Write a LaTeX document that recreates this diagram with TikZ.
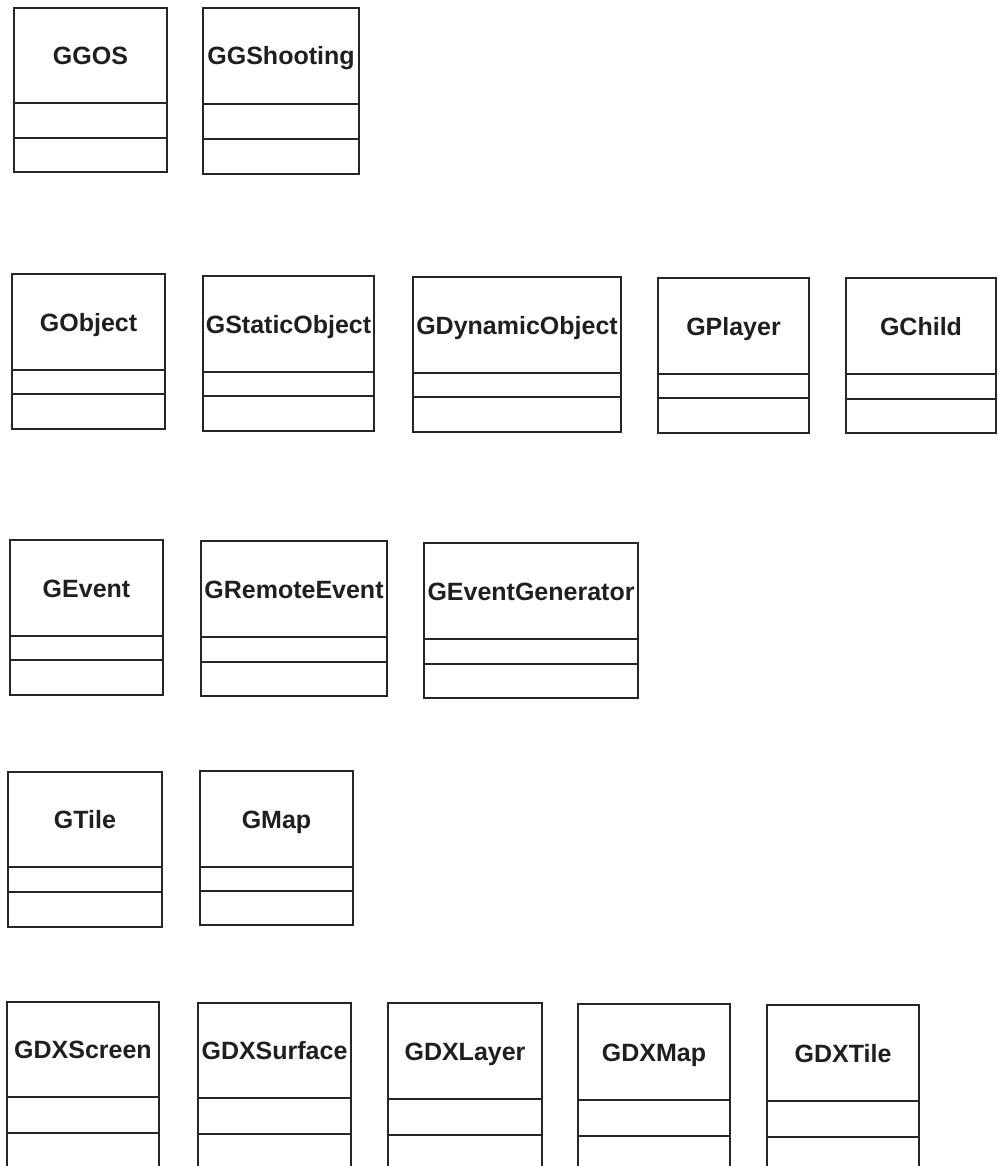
\documentclass[tikz,border=0pt]{standalone}
\usepackage{fontspec}
\setmainfont{Liberation Sans}
\tikzset{
  x=1pt, y=-1pt,
  classline/.style={draw=black!85, line width=1.6pt},
  classname/.style={font=\fontsize{25}{30}\selectfont\bfseries, inner sep=0pt, anchor=base, text=black!88}
}
% id, left, top, right, divider1, divider2, bottom, name
\newcommand{\umlbox}[8]{%
  \draw[classline] (#2,#3) rectangle (#4,#7);
  \draw[classline] (#2,#5) -- (#4,#5);
  \draw[classline] (#2,#6) -- (#4,#6);
  \node[classname] (#1) at ({(#2+#4)/2},{(#3+#5)/2+9}) {#8};
}
\begin{document}
\begin{tikzpicture}
\useasboundingbox (0,0) rectangle (998,1166);
\clip (0,0) rectangle (998,1166);
\fill[white] (0,0) rectangle (998,1166);
% row 1
\umlbox{ggos}{14}{8}{167}{103}{138}{172}{GGOS}
\umlbox{ggshooting}{203}{8}{359}{104}{139}{174}{GGShooting}
% row 2
\umlbox{gobject}{12}{274}{165}{370}{394}{429}{GObject}
\umlbox{gstaticobject}{203}{276}{374}{372}{396}{431}{GStaticObject}
\umlbox{gdynamicobject}{413}{277}{621}{373}{397}{432}{GDynamicObject}
\umlbox{gplayer}{658}{278}{809}{374}{398}{433}{GPlayer}
\umlbox{gchild}{846}{278}{996}{374}{399}{433}{GChild}
% row 3
\umlbox{gevent}{10}{540}{163}{636}{660}{695}{GEvent}
\umlbox{gremoteevent}{201}{541}{387}{637}{662}{696}{GRemoteEvent}
\umlbox{geventgenerator}{424}{543}{638}{639}{664}{698}{GEventGenerator}
% row 4
\umlbox{gtile}{8}{772}{162}{867}{892}{927}{GTile}
\umlbox{gmap}{200}{771}{353}{867}{891}{925}{GMap}
% row 5
\umlbox{gdxscreen}{7}{1002}{159}{1097}{1133}{1190}{GDXScreen}
\umlbox{gdxsurface}{198}{1003}{351}{1098}{1134}{1190}{GDXSurface}
\umlbox{gdxlayer}{388}{1003}{542}{1099}{1135}{1190}{GDXLayer}
\umlbox{gdxmap}{578}{1004}{730}{1100}{1136}{1190}{GDXMap}
\umlbox{gdxtile}{767}{1005}{919}{1101}{1137}{1190}{GDXTile}
\end{tikzpicture}
\end{document}
